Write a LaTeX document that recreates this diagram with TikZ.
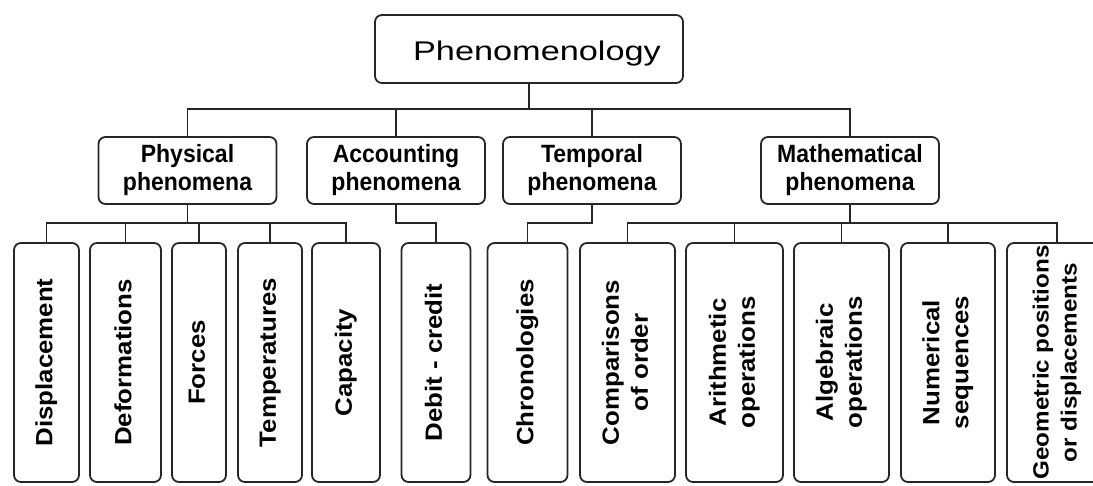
\documentclass[tikz,border=0pt]{standalone}
\usepackage{fontspec}
\usepackage{graphicx}
\usepackage{tikz}
\newfontfamily\rootfont[FakeStretch=1.27]{Liberation Sans}
\newfontfamily\groupfont[FakeStretch=0.92]{Liberation Sans}
\newfontfamily\leaffont[FakeStretch=1.1]{Liberation Sans}
\newcommand{\vlabel}[1]{\rotatebox{90}{\begin{tabular}{@{}c@{}}#1\end{tabular}}}

\begin{document}
\begin{tikzpicture}[x=1pt, y=-1pt]
        \tikzset{
            box/.style={draw=black!85, line width=1.8pt, rounded corners=7pt, inner sep=0pt},
            head/.style={box, minimum width=308, minimum height=68, text height=23, text depth=0, font=\rootfont\fontsize{27}{30}\selectfont},
            group/.style={box, minimum width=178, minimum height=67, align=center, font=\groupfont\bfseries\fontsize{25}{28}\selectfont},
            leaf/.style={box, minimum height=239, font=\leaffont\bfseries\fontsize{23.5}{29}\selectfont},
            link/.style={draw=black!85, line width=1.8pt}
        }
        \useasboundingbox (0,0) rectangle (1093,485);
        \clip (0,0) rectangle (1093,485);

        % Nodes
        \node[head] (pheno) at (529,49) {\hspace*{16pt}Phenomenology};

        \node[group] (physical) at (187.5,170.5) {Physical\\phenomena};
        \node[group] (accounting) at (396,170.5) {Accounting\\phenomena};
        \node[group] (temporal) at (592,170.5) {Temporal\\phenomena};
        \node[group] (mathematical) at (850,170.5) {Mathematical\\phenomena};

        \node[leaf, minimum width=65] (displacement) at (46.5,362.5) {\vlabel{Displacement}};
        \node[leaf, minimum width=71] (deformations) at (125.5,362.5) {\vlabel{Deformations}};
        \node[leaf, minimum width=54] (forces) at (199,362.5) {\vlabel{Forces}};
        \node[leaf, minimum width=64] (temperatures) at (270,362.5) {\vlabel{Temperatures}};
        \node[leaf, minimum width=68] (capacity) at (346,362.5) {\vlabel{Capacity}};
        \node[leaf, minimum width=69] (debit) at (436,362.5) {\vlabel{Debit - credit}};
        \node[leaf, minimum width=80] (chronologies) at (527.5,362.5) {\vlabel{Chronologies}};
        \node[leaf, minimum width=95] (comparisons) at (627.5,362.5) {\vlabel{Comparisons\\of order}};
        \node[leaf, minimum width=97] (arithmetic) at (734.5,362.5) {\vlabel{Arithmetic\\operations}};
        \node[leaf, minimum width=95] (algebraic) at (841.5,362.5) {\vlabel{Algebraic\\operations}};
        \node[leaf, minimum width=94] (numerical) at (948,362.5) {\vlabel{Numerical\\sequences}};
        \node[leaf, minimum width=100, font=\leaffont\bfseries\fontsize{22}{28}\selectfont] (geometric) at (1057,362.5) {\vlabel{Geometric positions\\or displacements}};

        % Connectors
        \coordinate (topbus) at (529,109);
        \draw[link] (pheno.south) -- (topbus);
        \foreach \g in {physical, accounting, temporal, mathematical}
            \draw[link] (topbus) -| (\g.north);

        \draw[link] (physical.south) -- ++(0,18) coordinate (physbus);
        \foreach \l in {displacement, deformations, forces, temperatures, capacity}
            \draw[link] (physbus) -| (\l.north);

        \draw[link] (accounting.south) -- ++(0,18) -| (debit.north);
        \draw[link] (temporal.south) -- ++(0,18) -| (chronologies.north);

        \draw[link] (mathematical.south) -- ++(0,18) coordinate (mathbus);
        \foreach \l in {comparisons, arithmetic, algebraic, numerical, geometric}
            \draw[link] (mathbus) -| (\l.north);
\end{tikzpicture}
\end{document}
